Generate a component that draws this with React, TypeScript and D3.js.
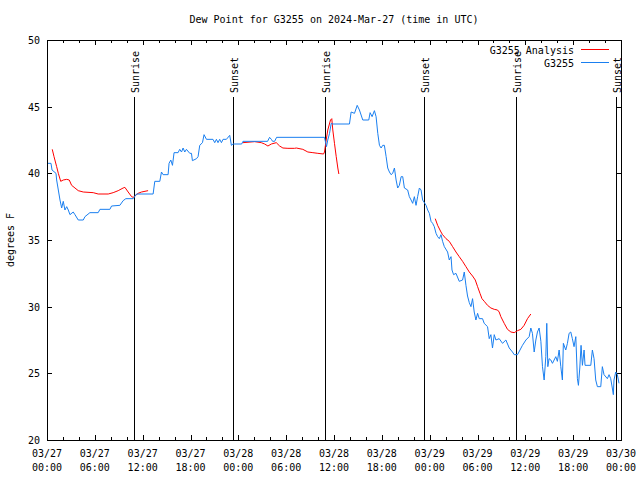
import * as d3 from "d3";

// hours after 2024-03-27 00:00 UTC
const START = Date.UTC(2024, 2, 27);
const SPAN_HOURS = 72;

// G3255 observations
const obsHours = [
  0.0, 0.5, 0.63, 1.13, 1.21, 1.42, 1.63, 1.84, 2.04, 2.25, 2.47, 2.67, 2.88, 3.29, 3.51, 3.92, 4.55, 4.76,
  5.38, 6.42, 6.64, 7.89, 8.1, 9.14, 9.55, 9.89, 10.81, 11.23, 13.31, 13.52, 14.15, 14.36, 14.56, 15.19,
  15.31, 15.53, 15.74, 15.94, 16.44, 16.65, 16.87, 17.07, 17.28, 17.49, 17.91, 18.12, 18.24, 18.75, 18.95,
  19.16, 19.5, 19.7, 20.0, 20.82, 21.04, 21.25, 21.45, 21.66, 21.88, 22.08, 22.5, 22.92, 23.13, 23.33,
  24.42, 24.58, 27.67, 27.92, 28.14, 28.3, 28.55, 28.8, 34.81, 35.06, 35.22, 35.44, 35.65, 35.85, 37.94,
  38.15, 38.57, 38.91, 39.19, 39.61, 40.36, 40.53, 40.78, 41.07, 41.28, 41.49, 41.7, 41.91, 42.11, 42.32,
  42.54, 42.74, 42.95, 43.16, 43.36, 43.58, 43.79, 43.99, 44.2, 44.42, 44.62, 44.83, 45.24, 45.45, 45.67,
  45.87, 46.08, 46.29, 46.49, 46.71, 46.92, 47.12, 47.55, 47.75, 47.96, 48.17, 48.37, 48.58, 48.8, 49.0,
  49.21, 49.42, 49.62, 49.84, 50.25, 50.46, 50.68, 50.8, 51.0, 51.3, 51.71, 52.13, 52.34, 52.55, 52.75,
  52.97, 53.18, 53.38, 53.59, 53.8, 54.01, 54.22, 54.63, 54.84, 55.26, 55.47, 55.68, 55.88, 56.1, 56.31,
  56.72, 57.14, 57.56, 57.98, 58.39, 58.6, 59.02, 59.64, 60.07, 60.48, 60.69, 60.89, 61.11, 61.32, 61.52,
  61.73, 61.95, 62.15, 62.36, 62.57, 62.69, 62.82, 62.98, 63.2, 63.4, 63.61, 63.82, 64.02, 64.24, 64.45,
  64.65, 64.77, 65.07, 65.28, 65.49, 65.7, 65.9, 66.11, 66.33, 66.53, 66.66, 66.83, 66.99, 67.16, 67.37,
  67.49, 68.21, 68.41, 68.62, 68.83, 69.04, 69.46, 69.66, 69.87, 70.29, 70.5, 70.71, 70.91, 71.04, 71.12,
  71.34, 71.54, 71.75,
];
const obsValues = [
  40.75, 40.75, 40.25, 40.0, 39.5, 38.75, 38.0, 37.4, 37.9, 37.25, 37.5, 37.25, 36.9, 37.1, 36.9, 36.5, 36.5, 36.75,
  37.05, 37.05, 37.3, 37.3, 37.55, 37.6, 37.95, 38.1, 38.1, 38.45, 38.45, 39.4, 39.4, 40.1, 39.9, 39.9,
  40.75, 41.0, 40.6, 41.55, 41.55, 41.8, 41.6, 41.9, 41.6, 41.8, 41.5, 41.5, 40.95, 41.1, 41.25,
  42.1, 42.3, 42.9, 42.55, 42.55, 42.3, 42.55, 42.3, 42.55, 42.3, 42.55, 42.55, 42.85, 42.1, 42.2,
  42.2, 42.4, 42.4, 42.7, 42.55, 42.4, 42.4, 42.7, 42.7, 42.0, 42.5, 43.0, 43.75, 43.7, 43.7,
  44.6, 44.5, 45.1, 44.75, 44.0, 44.0, 44.55, 44.25, 44.7, 44.25, 43.0, 42.1, 41.9, 42.1, 42.1,
  41.25, 40.4, 40.1, 39.9, 40.0, 40.4, 39.5, 38.9, 39.1, 39.75, 39.75, 38.9, 38.75, 38.25, 38.0,
  37.75, 38.25, 37.6, 38.25, 38.9, 38.75, 38.0, 37.6, 37.25, 37.0, 36.4, 36.25, 36.0, 35.5, 35.25,
  35.1, 35.4, 34.9, 34.5, 34.1, 33.5, 33.75, 32.75, 32.4, 32.5, 31.9, 32.0, 32.6, 31.6, 30.8,
  30.3, 30.0, 30.6, 29.6, 29.0, 29.5, 29.1, 29.1, 28.75, 28.5, 27.6, 27.9, 26.9, 27.9, 27.5,
  27.6, 27.25, 27.5, 26.9, 26.6, 26.4, 26.4, 27.1, 27.5, 27.75, 28.4, 28.0, 26.6, 27.5, 28.1,
  28.4, 27.4, 25.5, 24.5, 26.25, 28.75, 25.5, 26.1, 26.0, 25.75, 26.0, 26.25, 25.9, 26.75, 25.5,
  24.5, 27.25, 26.75, 27.25, 28.0, 28.1, 27.6, 27.0, 27.75, 24.6, 24.1, 25.4, 27.1, 25.6, 26.75,
  25.6, 25.6, 26.75, 26.1, 24.5, 24.0, 24.0, 25.5, 24.9, 24.6, 24.9, 24.6, 23.9, 23.4, 24.5,
  25.1, 24.9, 24.25,
];

// G3255 Analysis, three runs separated by null
const anaHours = [
  0.66, 0.88, 1.21, 1.42, 1.72, 2.04, 2.47, 2.79, 3.09, 3.51, 3.92, 4.55, 5.8, 6.42, 7.68, 8.3, 8.93,
  9.55, 9.77, 10.18, 10.61, 10.81, 11.02, 11.43, 11.86, 12.68, 18.0,
  24.58, 26.05, 26.88, 27.3, 27.71, 28.14, 28.76, 29.18, 29.59, 30.22, 31.05, 31.27, 32.09, 32.72, 33.35,
  33.97, 34.69, 34.81, 35.02, 35.22, 35.56, 35.72, 35.85, 36.06, 36.28, 36.48, 36.61, 42.0,
  48.7, 49.0, 49.42, 49.62, 50.05, 50.46, 50.88, 51.3, 51.71, 52.13, 52.55, 52.97, 53.38, 53.72, 54.01,
  54.31, 54.56, 54.85, 55.26, 55.68, 56.1, 56.51, 56.72, 56.93, 57.35, 57.76, 58.19, 58.6, 59.02, 59.44,
  59.85, 60.27, 60.69,
];
const anaValues = [
  41.8, 41.25, 40.5, 40.0, 39.4, 39.5, 39.55, 39.5, 39.1, 38.9, 38.7, 38.6, 38.55, 38.45, 38.45, 38.55, 38.7,
  38.9, 38.95, 38.6, 38.25, 38.2, 38.3, 38.5, 38.6, 38.7, null,
  42.3, 42.375, 42.3, 42.2, 42.05, 42.2, 42.3, 42.05, 41.9, 41.875, 41.875, 41.9, 41.8, 41.6, 41.55,
  41.5, 41.45, 41.6, 42.5, 43.25, 44.0, 44.1, 43.25, 42.25, 41.25, 40.4, 39.95, null,
  36.6, 36.1, 35.6, 35.4, 35.1, 34.9, 34.5, 34.1, 33.75, 33.4, 33.0, 32.6, 32.3, 32.0, 31.5,
  31.0, 30.6, 30.4, 30.1, 29.9, 29.8, 29.75, 29.6, 29.25, 28.75, 28.3, 28.1, 28.05, 28.2, 28.3,
  28.6, 29.1, 29.45,
];

const eventHours = [10.9, 23.3, 34.85, 47.25, 58.8, 71.35];
const eventNames = ["Sunrise", "Sunset", "Sunrise", "Sunset", "Sunrise", "Sunset"];

const yTicks = [20, 25, 30, 35, 40, 45, 50];

const seriesNames = ["G3255 Analysis", "G3255"];
const seriesColors = ["#ff0000", "#1a7ff0"];

const FONT = "'DejaVu Sans Mono', 'Liberation Mono', monospace";

const toDate = (h: number) => new Date(START + h * 3600e3);

function App() {
  const width = 640;
  const height = 480;
  const left = 47;
  const right = 621;
  const top = 40;
  const bottom = 440;

  const x = d3.scaleUtc().domain([toDate(0), toDate(SPAN_HOURS)]).range([left, right]);
  const y = d3.scaleLinear().domain([20, 50]).range([bottom, top]);

  const majorTicks = x.ticks(d3.utcHour.every(6) as any);
  const minorTicks = x.ticks(d3.utcHour.every(2) as any);
  const fmtDay = d3.utcFormat("%m/%d");
  const fmtTime = d3.utcFormat("%H:%M");

  const line: any = d3
    .line<{ t: number; v: number | null }>()
    .defined((d) => d.v != null)
    .x((d) => x(toDate(d.t)))
    .y((d) => y(d.v as number));

  const obs = obsHours.map((t, i) => ({ t, v: obsValues[i] }));
  const ana = anaHours.map((t, i) => ({ t, v: anaValues[i] }));

  return (
    <svg
      width={width}
      height={height}
      style={{ position: "absolute", left: 0, top: 0, background: "#fff" }}
      fontFamily={FONT}
      fontSize={10}
    >
      <text x={(left + right) / 2} y={23} textAnchor="middle">
        Dew Point for G3255 on 2024-Mar-27 (time in UTC)
      </text>

      {/* ticks */}
      <g stroke="#000" strokeWidth={1} shapeRendering="crispEdges">
        {minorTicks.map((d, i) => {
          const major = majorTicks.some((m) => +m === +d);
          const len = major ? 5 : 3;
          const px = Math.round(x(d)) + 0.5;
          return (
            <g key={"xt" + i}>
              <line x1={px} x2={px} y1={bottom} y2={bottom - len} />
              <line x1={px} x2={px} y1={top} y2={top + len} />
            </g>
          );
        })}
        {yTicks.map((v) => {
          const py = Math.round(y(v)) + 0.5;
          return (
            <g key={"yt" + v}>
              <line x1={left} x2={left + 5} y1={py} y2={py} />
              <line x1={right} x2={right - 5} y1={py} y2={py} />
            </g>
          );
        })}
      </g>

      {yTicks.map((v) => (
        <text key={"yl" + v} x={40} y={y(v) + 4} textAnchor="end">
          {v}
        </text>
      ))}
      {majorTicks.map((d, i) => (
        <text key={"xl" + i} x={x(d)} y={457} textAnchor="middle">
          <tspan x={x(d)}>{fmtDay(d)}</tspan>
          <tspan x={x(d)} dy={14}>
            {fmtTime(d)}
          </tspan>
        </text>
      ))}

      <text transform="translate(14,240) rotate(-90)" textAnchor="middle">
        degrees F
      </text>

      {/* sunrise / sunset */}
      {eventHours.map((h, i) => {
        const px = Math.round(x(toDate(h))) + 0.5;
        return (
          <g key={"ev" + i}>
            <line x1={px} x2={px} y1={97} y2={bottom} stroke="#000" shapeRendering="crispEdges" />
            <text transform={`translate(${px + 4},93) rotate(-90)`} textAnchor="start">
              {eventNames[i]}
            </text>
          </g>
        );
      })}

      <path d={line(ana)} fill="none" stroke={seriesColors[0]} strokeWidth={1} />
      <path d={line(obs)} fill="none" stroke={seriesColors[1]} strokeWidth={1} />

      {/* legend */}
      {seriesNames.map((name, i) => (
        <g key={"lg" + i}>
          <text x={574} y={54 + i * 13} textAnchor="end">
            {name}
          </text>
          <line
            x1={581}
            x2={609}
            y1={49.5 + i * 13}
            y2={49.5 + i * 13}
            stroke={seriesColors[i]}
            shapeRendering="crispEdges"
          />
        </g>
      ))}

      <rect
        x={left + 0.5}
        y={top + 0.5}
        width={right - left}
        height={bottom - top}
        fill="none"
        stroke="#000"
        shapeRendering="crispEdges"
      />
    </svg>
  );
}

export default App;
